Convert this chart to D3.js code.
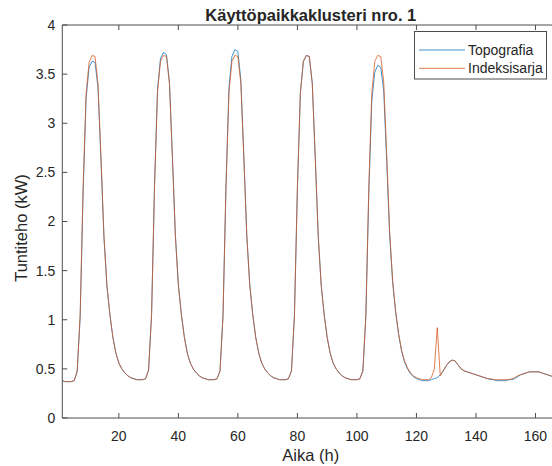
<!DOCTYPE html>
<html><head><meta charset="utf-8">
<script src="https://cdn.jsdelivr.net/npm/d3@7"></script>
<style>body{margin:0;background:#fff}svg{display:block}text{font-family:"Liberation Sans",Arial,Helvetica,sans-serif;fill:#262626}</style>
</head><body>
<svg id="c" width="552" height="466"></svg>
<script>
const titleText = "Käyttöpaikkaklusteri nro. 1";
const xLabel = "Aika (h)";
const yLabel = "Tuntiteho (kW)";
const seriesNames = ["Topografia", "Indeksisarja"];
const xTicks = [20, 40, 60, 80, 100, 120, 140, 160];
const yTicks = [0, 0.5, 1, 1.5, 2, 2.5, 3, 3.5, 4];
const xDomain = [1, 168];
const yDomain = [0, 4];

const topografia = [
 0.38,0.37,0.37,0.37,0.38,0.47,1.02,2.30,3.25,3.57,3.63,3.62,3.36,2.62,1.84,1.34,1.05,0.82,0.66,0.56,0.50,0.46,0.43,0.41,
 0.40,0.39,0.39,0.39,0.40,0.49,1.06,2.38,3.35,3.66,3.72,3.70,3.42,2.66,1.86,1.36,1.06,0.83,0.66,0.56,0.50,0.46,0.43,0.41,
 0.40,0.39,0.39,0.39,0.40,0.48,1.04,2.36,3.36,3.68,3.75,3.73,3.44,2.66,1.85,1.35,1.05,0.82,0.66,0.56,0.50,0.46,0.43,0.41,
 0.40,0.39,0.39,0.39,0.40,0.48,1.04,2.34,3.31,3.63,3.69,3.68,3.41,2.65,1.85,1.35,1.05,0.82,0.66,0.56,0.50,0.46,0.43,0.41,
 0.40,0.39,0.39,0.39,0.40,0.48,1.03,2.30,3.23,3.52,3.59,3.57,3.33,2.62,1.86,1.38,1.08,0.85,0.68,0.57,0.50,0.45,0.42,0.40,
 0.39,0.38,0.38,0.38,0.39,0.40,0.41,0.44,0.48,0.53,0.57,0.59,0.58,0.54,0.50,0.48,0.47,0.46,0.45,0.44,0.43,0.42,0.41,0.40,
 0.39,0.39,0.38,0.38,0.38,0.38,0.39,0.39,0.40,0.42,0.44,0.45,0.46,0.47,0.47,0.47,0.47,0.46,0.45,0.44,0.43,0.42,0.41,0.40
];
const indeksisarja = [
 0.38,0.37,0.37,0.37,0.38,0.48,1.05,2.35,3.30,3.62,3.69,3.68,3.40,2.65,1.85,1.35,1.05,0.82,0.66,0.56,0.50,0.46,0.43,0.41,
 0.40,0.39,0.39,0.39,0.40,0.49,1.05,2.36,3.32,3.63,3.69,3.68,3.40,2.65,1.85,1.35,1.05,0.82,0.66,0.56,0.50,0.46,0.43,0.41,
 0.40,0.39,0.39,0.39,0.40,0.48,1.04,2.35,3.31,3.63,3.69,3.68,3.40,2.65,1.85,1.35,1.05,0.82,0.66,0.56,0.50,0.46,0.43,0.41,
 0.40,0.39,0.39,0.39,0.40,0.48,1.04,2.35,3.31,3.63,3.69,3.68,3.40,2.65,1.85,1.35,1.05,0.82,0.66,0.56,0.50,0.46,0.43,0.41,
 0.40,0.39,0.39,0.39,0.40,0.48,1.05,2.36,3.31,3.63,3.69,3.68,3.42,2.68,1.89,1.40,1.09,0.86,0.69,0.58,0.51,0.46,0.43,0.41,
 0.40,0.39,0.39,0.39,0.41,0.50,0.92,0.43,0.48,0.53,0.57,0.59,0.58,0.54,0.50,0.48,0.47,0.46,0.45,0.44,0.43,0.42,0.41,0.40,
 0.40,0.39,0.39,0.39,0.39,0.39,0.39,0.40,0.41,0.43,0.44,0.45,0.46,0.47,0.47,0.47,0.47,0.46,0.45,0.44,0.43,0.42,0.41,0.40
];
const colors = ["#0072BD", "#D95319"];

const svg = d3.select("#c");
const L = 62.3, R = 559.3, T = 25, B = 418;
const x = d3.scaleLinear().domain(xDomain).range([L, R]);
const y = d3.scaleLinear().domain(yDomain).range([B, T]);
const axisCol = "#4d4d4d";

// title
svg.append("text").attr("x", (L + R) / 2).attr("y", 21).attr("text-anchor", "middle")
  .style("font-weight", "bold").style("font-size", "16.5px").text(titleText);

// lines
const line = d3.line().x((d, i) => x(xDomain[0] + i)).y(d => y(d));
const g = svg.append("g");
[topografia, indeksisarja].forEach((s, k) => {
  g.append("path").datum(s).attr("d", line).attr("fill", "none")
    .attr("stroke", colors[k]).attr("stroke-width", 1).attr("stroke-opacity", 0.75)
    .attr("stroke-linejoin", "round");
});

// axes (ticks inward, box)
const ax = svg.append("g").attr("fill", "none").attr("stroke", axisCol).attr("stroke-width", 1);
ax.append("line").attr("x1", L).attr("x2", R).attr("y1", B).attr("y2", B);
ax.append("line").attr("x1", L).attr("x2", R).attr("y1", T).attr("y2", T);
ax.append("line").attr("x1", L).attr("x2", L).attr("y1", T).attr("y2", B);
xTicks.forEach(v => {
  ax.append("line").attr("x1", x(v)).attr("x2", x(v)).attr("y1", B).attr("y2", B - 5);
  ax.append("line").attr("x1", x(v)).attr("x2", x(v)).attr("y1", T).attr("y2", T + 5);
});
yTicks.forEach(v => {
  ax.append("line").attr("x1", L).attr("x2", L + 5).attr("y1", y(v)).attr("y2", y(v));
});
svg.selectAll(".xt").data(xTicks).join("text").attr("class", "xt")
  .attr("x", d => x(d)).attr("y", 441).attr("text-anchor", "middle")
  .style("font-size", "14px").text(d => d);
svg.selectAll(".yt").data(yTicks).join("text").attr("class", "yt")
  .attr("x", L - 7).attr("y", d => y(d) + 4.9).attr("text-anchor", "end")
  .style("font-size", "14px").text(d => d);

svg.append("text").attr("x", (L + R) / 2).attr("y", 461).attr("text-anchor", "middle")
  .style("font-size", "16.5px").text(xLabel);
svg.append("text").attr("transform", `translate(26.5,228) rotate(-90)`)
  .attr("text-anchor", "middle").style("font-size", "16.5px").text(yLabel);

// legend
const lg = svg.append("g");
lg.append("rect").attr("x", 414.5).attr("y", 31.5).attr("width", 132).attr("height", 47.5)
  .attr("fill", "#fff").attr("stroke", axisCol).attr("stroke-width", 1);
seriesNames.forEach((n, k) => {
  const yy = 50 + k * 18.3;
  lg.append("line").attr("x1", 419).attr("x2", 465).attr("y1", yy).attr("y2", yy)
    .attr("stroke", colors[k]).attr("stroke-width", 1).attr("stroke-opacity", 0.75);
  lg.append("text").attr("x", 468).attr("y", yy + 5).style("font-size", "14px").text(n);
});
</script>
</body></html>
